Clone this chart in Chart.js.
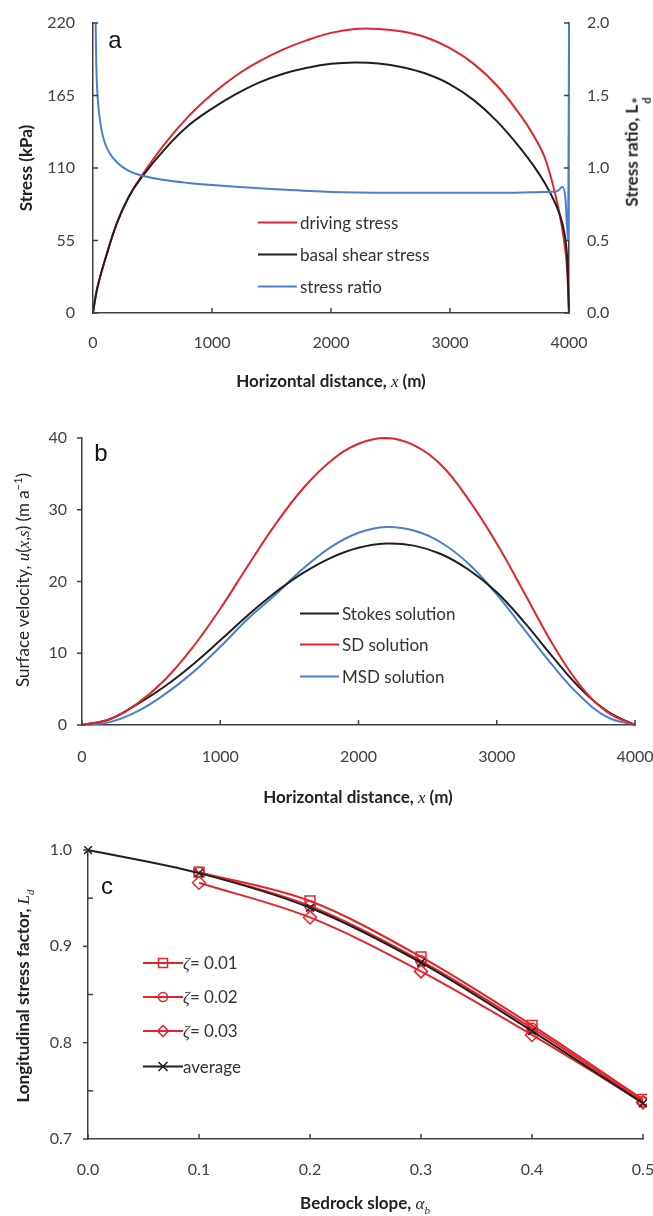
<!DOCTYPE html>
<html>
<head>
<meta charset="utf-8">
<script src="https://cdn.jsdelivr.net/npm/chart.js@4.4.0/dist/chart.umd.min.js"></script>
<style>
    body { margin: 0; background: #fff; }
    #page { position: relative; width: 653px; height: 1216px; overflow: hidden; font-family: Lato, sans-serif; color: #222; }
    canvas { position: absolute; left: 0; }
    .t { position: absolute; white-space: nowrap; transform: translate(-50%, -50%); font-size: 17px; line-height: 1; }
    .v { transform: translate(-50%, -50%) rotate(-90deg); }
    .b { font-weight: bold; }
    .m { font-family: 'Liberation Serif', serif; font-style: italic; font-weight: normal; }
    .lg { position: absolute; white-space: nowrap; font-size: 17px; line-height: 1; transform: translateY(-50%); display: flex; align-items: center; color: #333; }
    .lg .sw { display: inline-block; width: 39px; height: 0; border-top: 2px solid; margin-right: 3px; }
    .lg svg { display: block; }
    .letter { position: absolute; font-family: 'Liberation Sans', Arial, sans-serif; font-size: 24px; line-height: 1; transform: translate(-50%, -50%); color: #111; }
    .stk { display: inline-flex; flex-direction: column; align-items: flex-start; line-height: 0.75; vertical-align: -5px; margin-left: 1px; }
    .stk .s1 { font-size: 15px; }
    .stk .s2 { font-size: 11px; }
</style>
</head>
<body>
<div id="page">
    <canvas id="chartA" width="653" height="400" style="top:0px"></canvas>
    <canvas id="chartB" width="653" height="400" style="top:400px"></canvas>
    <canvas id="chartC" width="653" height="416" style="top:800px"></canvas>

    <!-- パネル記号 -->
    <div class="letter" style="left:115px;top:40px">a</div>
    <div class="letter" style="left:101px;top:453px">b</div>
    <div class="letter" style="left:107px;top:886px">c</div>

    <!-- 軸タイトル -->
    <div class="t v b" style="left:25px;top:168px">Stress (kPa)</div>
    <div class="t v b" style="left:637px;top:152px">Stress ratio, L<span class="stk"><span class="s1">*</span><span class="s2">d</span></span></div>
    <div class="t b" style="left:331px;top:381px">Horizontal distance, <span class="m">x</span> (m)</div>

    <div class="t v" style="left:22px;top:580px">Surface velocity, <span class="m">u</span>(<span class="m">x</span>,<span class="m">s</span>) (m a<sup style="font-size:11px">−1</sup>)</div>
    <div class="t b" style="left:358px;top:797px">Horizontal distance, <span class="m">x</span> (m)</div>

    <div class="t v b" style="left:25px;top:996px">Longitudinal stress factor, <span class="m">L</span><sub class="m" style="font-size:11px">d</sub></div>
    <div class="t b" style="left:365px;top:1205px">Bedrock slope, <span class="m">α</span><sub class="m" style="font-size:11px">b</sub></div>

    <!-- 凡例 a -->
    <div class="lg" style="left:258px;top:222px"><span class="sw" style="border-color:#e3242b"></span>driving stress</div>
    <div class="lg" style="left:258px;top:254px"><span class="sw" style="border-color:#1f1f1f"></span>basal shear stress</div>
    <div class="lg" style="left:258px;top:286px"><span class="sw" style="border-color:#4a7ed0"></span>stress ratio</div>

    <!-- 凡例 b -->
    <div class="lg" style="left:300px;top:613px"><span class="sw" style="border-color:#1f1f1f"></span>Stokes solution</div>
    <div class="lg" style="left:300px;top:644px"><span class="sw" style="border-color:#e3242b"></span>SD solution</div>
    <div class="lg" style="left:300px;top:676px"><span class="sw" style="border-color:#4a7ed0"></span>MSD solution</div>

    <!-- 凡例 c -->
    <div class="lg" style="left:143px;top:963px">
        <svg width="40" height="14"><line x1="0" y1="7" x2="40" y2="7" stroke="#e3242b" stroke-width="2"/><rect x="15.5" y="2.5" width="9" height="9" fill="none" stroke="#e3242b" stroke-width="1.5"/></svg>
        <span><span class="m">ζ</span>= 0.01</span></div>
    <div class="lg" style="left:143px;top:997px">
        <svg width="40" height="14"><line x1="0" y1="7" x2="40" y2="7" stroke="#e3242b" stroke-width="2"/><circle cx="20" cy="7" r="4.5" fill="none" stroke="#e3242b" stroke-width="1.5"/></svg>
        <span><span class="m">ζ</span>= 0.02</span></div>
    <div class="lg" style="left:143px;top:1031px">
        <svg width="40" height="14"><line x1="0" y1="7" x2="40" y2="7" stroke="#e3242b" stroke-width="2"/><polygon points="20,1.5 25.5,7 20,12.5 14.5,7" fill="none" stroke="#e3242b" stroke-width="1.5"/></svg>
        <span><span class="m">ζ</span>= 0.03</span></div>
    <div class="lg" style="left:143px;top:1066px">
        <svg width="40" height="14"><line x1="0" y1="7" x2="40" y2="7" stroke="#1f1f1f" stroke-width="2"/><path d="M15.5,2.5 L24.5,11.5 M24.5,2.5 L15.5,11.5" stroke="#1f1f1f" stroke-width="1.5"/></svg>
        <span>average</span></div>
</div>

<script>
// パネル a: 応力
const stressX = [0, 25, 50, 100, 200, 300, 400, 600, 800, 1000, 1200, 1400, 1600, 1800, 2000,
    2200, 2400, 2600, 2800, 3000, 3200, 3400, 3600, 3700, 3800, 3900, 3950, 3980, 4000];
const drivingStress = [0, 14, 24, 40, 68, 88, 103, 128, 149, 166, 180, 191, 200, 207, 212.5,
    215.5, 215.5, 213.5, 209, 201, 189, 172, 149, 135, 117, 84, 60, 38, 0];
const basalShear = [0, 14, 24, 40, 68, 88, 102, 124, 142, 155, 166, 175, 181.5, 186, 189,
    190, 189.3, 186.5, 181.5, 173.5, 161.5, 145, 124, 112, 98, 80, 66, 48, 0];
const ratioX = [22, 28, 38, 55, 80, 110, 150, 200, 300, 400, 600, 800, 1000, 1200, 1500,
    2000, 2500, 3000, 3500, 3800, 3900, 3945, 3970, 3993, 4000];
const stressRatio = [2.0, 1.7, 1.5, 1.35, 1.23, 1.15, 1.09, 1.04, 0.98, 0.95, 0.917, 0.897, 0.882, 0.870, 0.855,
    0.835, 0.83, 0.83, 0.83, 0.835, 0.84, 0.87, 0.79, 0.5, 2.0];
const distTicks = [0, 1000, 2000, 3000, 4000];
const stressTicks = [0, 55, 110, 165, 220];
const ratioTicks = [0, 0.5, 1.0, 1.5, 2.0];

// パネル b: 表面速度
const velX = [0, 200, 400, 600, 800, 1000, 1200, 1400, 1600, 1800, 2000, 2200, 2400,
    2600, 2800, 3000, 3200, 3400, 3600, 3800, 4000];
const stokesVel = [0, 0.8, 2.9, 5.4, 8.4, 11.8, 15.3, 18.5, 21.2, 23.3, 24.7, 25.3, 25.0,
    23.8, 21.6, 18.5, 14.3, 9.6, 5.2, 1.9, 0];
const sdVel = [0, 0.8, 3.0, 6.3, 10.8, 16.2, 22.2, 28.0, 33.0, 36.8, 39.2, 40.0, 39.0,
    36.2, 31.3, 25.3, 18.4, 11.4, 5.6, 1.8, 0];
const msdVel = [0, 0.4, 1.9, 4.3, 7.3, 10.9, 14.8, 18.2, 21.8, 24.8, 26.8, 27.6, 27.1,
    25.4, 22.4, 18.2, 13.3, 8.4, 4.1, 1.1, 0];
const velTicks = [0, 10, 20, 30, 40];

// パネル c: 縦応力係数
const slope = [0, 0.1, 0.2, 0.3, 0.4, 0.5];
const zeta001 = [null, 0.977, 0.947, 0.889, 0.818, 0.741];
const zeta002 = [null, 0.977, 0.942, 0.885, 0.815, 0.739];
const zeta003 = [null, 0.966, 0.930, 0.874, 0.808, 0.738];
const averageLd = [1.0, 0.976, 0.940, 0.883, 0.812, 0.737];
const slopeTicks = [0, 0.1, 0.2, 0.3, 0.4, 0.5];
const ldTicks = [0.7, 0.75, 0.8, 0.85, 0.9, 0.95, 1.0];

const RED = '#e3242b';
const BLACK = '#1f1f1f';
const BLUE = '#4a7ed0';
const AXIS = '#404040';
const TICK = '#404040';

Chart.defaults.font.family = 'Lato';

function pts(xs, ys) {
    return xs.map((x, i) => ({ x: x, y: ys[i] })).filter(p => p.y !== null);
}

function range(t) {
    return { min: t[0], max: t[t.length - 1], step: t[1] - t[0] };
}

// 目盛り線（内向き・外向き）を自前で描く
const tickMarks = {
    id: 'tickMarks',
    afterDraw(chart, args, opts) {
        const ctx = chart.ctx;
        ctx.save();
        ctx.strokeStyle = AXIS;
        ctx.lineWidth = 1.5;
        Object.keys(opts.axes || {}).forEach(id => {
            const sc = chart.scales[id];
            const o = opts.axes[id];
            sc.ticks.forEach(t => {
                const p = sc.getPixelForValue(t.value);
                let dir = o.dir;
                if (o.major) {
                    const r = t.value / o.major;
                    if (Math.abs(r - Math.round(r)) > 1e-6) dir = o.minorDir;
                }
                const len = o.len;
                let a = 0, b = len;
                if (dir === 'out') { a = -len; b = 0; }
                if (dir === 'cross') { a = -len; b = len; }
                ctx.beginPath();
                if (sc.isHorizontal()) {
                    ctx.moveTo(p, sc.top - a);
                    ctx.lineTo(p, sc.top - b);
                } else if (sc.position === 'left') {
                    ctx.moveTo(sc.right + a, p);
                    ctx.lineTo(sc.right + b, p);
                } else {
                    ctx.moveTo(sc.left - a, p);
                    ctx.lineTo(sc.left - b, p);
                }
                ctx.stroke();
            });
        });
        ctx.restore();
    }
};

function baseAxis(ticksArr, opts) {
    const r = range(ticksArr);
    return {
        type: 'linear',
        position: opts.position,
        min: r.min,
        max: r.max,
        grid: { display: false, drawTicks: false },
        border: { display: true, color: AXIS, width: 1.5 },
        ticks: {
            stepSize: r.step,
            color: TICK,
            font: { family: 'Lato', size: 16 },
            padding: opts.padding,
            autoSkip: false,
            maxRotation: 0,
            callback: opts.fmt
        },
        afterFit: function(scale) {
            if (opts.width) scale.width = opts.width;
            if (opts.height) scale.height = opts.height;
            scale.paddingLeft = 0;
            scale.paddingRight = 0;
            scale.paddingTop = 0;
            scale.paddingBottom = 0;
        }
    };
}

// 滑らかな曲線（ベジェ）
function lineSet(data, color, extra) {
    return Object.assign({
        data: data,
        borderColor: color,
        backgroundColor: color,
        borderWidth: 2,
        pointRadius: 0,
        tension: 0.4,
        fill: false,
        clip: 4
    }, extra || {});
}

const common = {
    responsive: false,
    animation: false,
    events: [],
    plugins: { legend: { display: false }, tooltip: { enabled: false } }
};

// パネル a
new Chart(document.getElementById('chartA').getContext('2d'), {
    type: 'line',
    data: {
        datasets: [
            lineSet(pts(ratioX, stressRatio), BLUE, { yAxisID: 'y2', order: 0, cubicInterpolationMode: 'monotone' }),
            lineSet(pts(stressX, basalShear), BLACK, { yAxisID: 'y', order: 1 }),
            lineSet(pts(stressX, drivingStress), RED, { yAxisID: 'y', order: 2 })
        ]
    },
    options: {
        ...common,
        layout: { padding: { top: 23, left: 0, right: 0, bottom: 0 } },
        plugins: {
            ...common.plugins,
            tickMarks: { axes: {
                x: { dir: 'in', len: 5 },
                y: { dir: 'in', len: 5 },
                y2: { dir: 'in', len: 5 }
            } }
        },
        scales: {
            x: baseAxis(distTicks, { position: 'bottom', height: 87, padding: 20 }),
            y: baseAxis(stressTicks, { position: 'left', width: 93, padding: 18 }),
            y2: baseAxis(ratioTicks, { position: 'right', width: 84, padding: 18, fmt: v => v.toFixed(1) })
        }
    },
    plugins: [tickMarks]
});

// パネル b
new Chart(document.getElementById('chartB').getContext('2d'), {
    type: 'line',
    data: {
        datasets: [
            lineSet(pts(velX, msdVel), BLUE, { order: 2 }),
            lineSet(pts(velX, stokesVel), BLACK, { order: 1 }),
            lineSet(pts(velX, sdVel), RED, { order: 0 })
        ]
    },
    options: {
        ...common,
        layout: { padding: { top: 38, left: 0, right: 18, bottom: 0 } },
        plugins: {
            ...common.plugins,
            tickMarks: { axes: {
                x: { dir: 'in', len: 5 },
                y: { dir: 'out', len: 5 }
            } }
        },
        scales: {
            x: baseAxis(distTicks, { position: 'bottom', height: 75, padding: 22 }),
            y: baseAxis(velTicks, { position: 'left', width: 82, padding: 15 })
        }
    },
    plugins: [tickMarks]
});

// パネル c
const markerOpts = (style, radius) => ({
    pointStyle: style,
    pointRadius: radius,
    pointBorderWidth: 1.5,
    pointBackgroundColor: 'rgba(0,0,0,0)',
    borderWidth: 2,
    tension: 0,
    cubicInterpolationMode: 'monotone'
});

new Chart(document.getElementById('chartC').getContext('2d'), {
    type: 'line',
    data: {
        datasets: [
            lineSet(pts(slope, averageLd), BLACK, { ...markerOpts('crossRot', 5.5), pointBorderColor: BLACK, order: 0 }),
            lineSet(pts(slope, zeta001), RED, { ...markerOpts('rect', 7), pointBorderColor: RED, order: 1 }),
            lineSet(pts(slope, zeta002), RED, { ...markerOpts('circle', 5), pointBorderColor: RED, order: 2 }),
            lineSet(pts(slope, zeta003), RED, { ...markerOpts('rectRot', 6.5), pointBorderColor: RED, order: 3 })
        ]
    },
    options: {
        ...common,
        layout: { padding: { top: 50, left: 0, right: 10, bottom: 0 } },
        plugins: {
            ...common.plugins,
            tickMarks: { axes: {
                x: { dir: 'in', len: 5 },
                y: { dir: 'out', len: 5, major: 0.1, minorDir: 'in' }
            } }
        },
        scales: {
            x: baseAxis(slopeTicks, { position: 'bottom', height: 77, padding: 21, fmt: v => v.toFixed(1) }),
            y: baseAxis(ldTicks, { position: 'left', width: 88, padding: 16, fmt: v => {
                const k = Math.round(v * 100);
                return k % 10 === 0 ? (k / 100).toFixed(1) : '';
            } })
        }
    },
    plugins: [tickMarks]
});
</script>
</body>
</html>
